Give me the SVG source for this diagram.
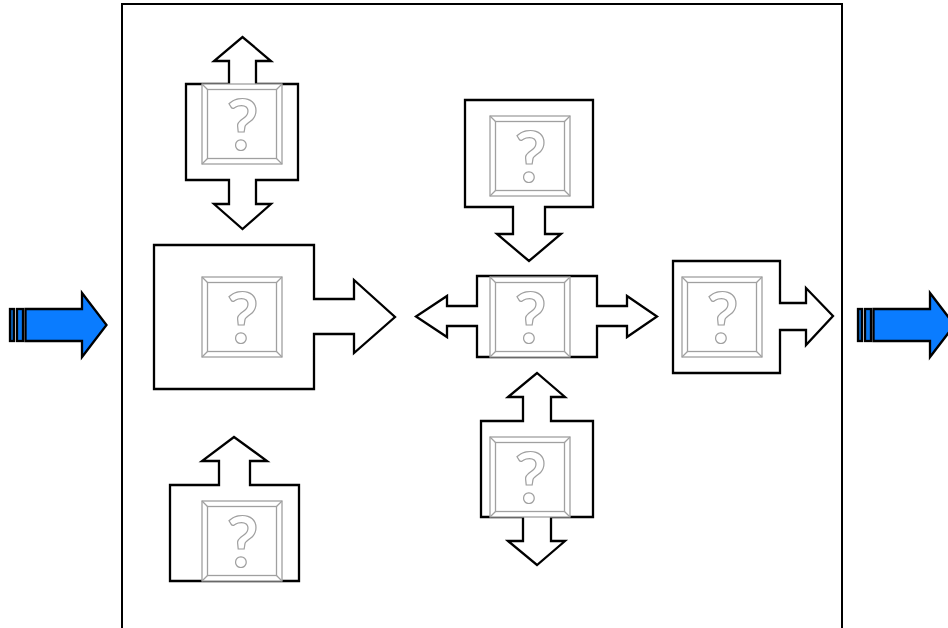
<svg xmlns="http://www.w3.org/2000/svg" width="948" height="628" viewBox="0 0 948 628">
<style>
.o{fill:#fff;stroke:#000;stroke-width:2.300;stroke-linejoin:miter}
.b{fill:#fff;stroke:#a0a0a0;stroke-width:1.300}
.q{font-family:"Lato","Liberation Sans",sans-serif;font-size:70px;font-weight:700;fill:#fff;stroke:#a0a0a0;stroke-width:1.200;text-anchor:middle}
.a{stroke:#000;stroke-width:2.300;stroke-linejoin:miter}
.a1{fill:#0a7cff}.a2{fill:#0a78f0}.a3{fill:#0a64c0}
</style>
<defs>
<g id="icon">
<rect class="b" x="0" y="0" width="80" height="80"/>
<rect class="b" x="5.500" y="5.500" width="69" height="69"/>
<path class="b" d="M0 0L5.500 5.500M80 0L74.500 5.500M0 80L5.500 74.500M80 80L74.500 74.500"/>
<text class="q" x="40.500" y="66">?</text>
</g>
<g id="blue">
<rect class="a a3" x="10" y="309" width="4" height="32"/>
<rect class="a a2" x="17" y="309" width="6" height="32"/>
<path class="a a1" d="M25.500 309H82V293L106.500 325L82 357V341H25.500Z"/>
</g>
</defs>
<rect id="frame" x="122" y="4" width="720" height="640" fill="#fff" stroke="#000" stroke-width="2"/>
<g id="connectors">
<use href="#blue"/>
<use href="#blue" x="848"/>
</g>
<g id="node-top-left">
<path class="o" d="M186 84H229V61H214L242.500 37L271 61H256V84H298V180H256V204H271L242.500 229L214 204H229V180H186Z"/>
<use href="#icon" x="202" y="84"/>
</g>
<g id="node-large-left">
<path class="o" d="M154 245H314V299H354V280L395 317L354 353V334H314V389H154Z"/>
<use href="#icon" x="202" y="277"/>
</g>
<g id="node-bottom-left">
<path class="o" d="M170 485H219V461H202L234 437L267 461H250V485H299V581H170Z"/>
<use href="#icon" x="202" y="501"/>
</g>
<g id="node-top-center">
<path class="o" d="M465 100H593V207H545V234H561L529 261L497 234H513V207H465Z"/>
<use href="#icon" x="490" y="116"/>
</g>
<g id="node-center">
<path class="o" d="M477 276H597V306H627V296L657 316.500L627 337V326H597V357H477V326H447V337L416 316.500L447 296V306H477Z"/>
<use href="#icon" x="490" y="277"/>
</g>
<g id="node-bottom-center">
<path class="o" d="M481 421H523V397H508L537 373L565 397H551V421H593V517H551V541H565L537 565L508 541H523V517H481Z"/>
<use href="#icon" x="490" y="437"/>
</g>
<g id="node-right">
<path class="o" d="M673 261H780V303H806V288L833 316L806 345V330H780V373H673Z"/>
<use href="#icon" x="682" y="277"/>
</g>
</svg>
